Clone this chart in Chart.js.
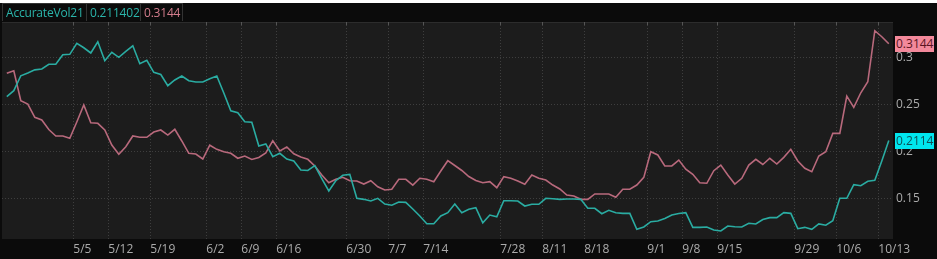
<!DOCTYPE html>
<html>
<head>
<meta charset="utf-8">
<script src="https://cdn.jsdelivr.net/npm/chart.js@4/dist/chart.umd.min.js"></script>
<style>
  html, body { margin: 0; padding: 0; background: #ffffff; }
  #wrap { position: absolute; left: 0; top: 3px; width: 937px; height: 256px; background: #0b0b0b; overflow: hidden; }
  #c { position: absolute; left: 0; top: 0; }
  #hdr { position: absolute; left: 0; top: 0; height: 18px; width: 937px; font-family: 'Open Sans', sans-serif; font-size: 12px; letter-spacing: -0.2px; }
  .hb { position: absolute; top: 0; height: 18px; line-height: 18px; border: 1px solid #333; border-bottom: none; box-sizing: border-box; padding-left: 3px; white-space: nowrap; overflow: hidden; }
  .vl { position: absolute; left: 895px; width: 39px; height: 16px; line-height: 16px; font-family: 'Open Sans', sans-serif; font-size: 12px; padding-left: 1px; box-sizing: border-box; white-space: nowrap; overflow: hidden; }
</style>
</head>
<body>
<div id="wrap">
  <canvas id="c" width="937" height="256"></canvas>
  <div id="hdr">
    <div class="hb" id="hName" style="left:2px;width:85px;color:#2bb5ab;"></div>
    <div class="hb" id="hV1" style="left:86px;width:55px;color:#2bb5ab;"></div>
    <div class="hb" id="hV2" style="left:140px;width:43px;color:#d47d8d;"></div>
  </div>
  <div class="vl" id="lblPink" style="background:#f3899b;color:#5a1422;"></div>
  <div class="vl" id="lblTeal" style="background:#00e6ee;color:#0d4f55;"></div>
</div>
<script>
const studyName = 'AccurateVol21';
const headerValues = ['0.211402', '0.3144'];

const tickLabels = ['5/5','5/12','5/19','6/2','6/9','6/16','6/30','7/7','7/14','7/28','8/11','8/18','9/1','9/8','9/15','9/29','10/6','10/13'];
const tickBars = [10,15,21,29,34,39,49,55,60,71,77,83,92,97,102,113,119,125];
const yTicks = [0.15, 0.2, 0.25, 0.3];

const tealVol = [
  0.2581,0.2645,0.2804,0.2833,0.2867,0.2876,0.2926,0.2926,0.3028,0.3032,
  0.3149,0.3102,0.3046,0.3166,0.2964,0.3053,0.3000,0.3064,0.3123,0.2932,
  0.2968,0.2840,0.2817,0.2698,0.2759,0.2801,0.2751,0.2737,0.2737,0.2772,
  0.2801,0.2620,0.2432,0.2411,0.2315,0.2309,0.2056,0.2078,0.1943,0.1979,
  0.1918,0.1897,0.1801,0.1796,0.1847,0.1710,0.1578,0.1687,0.1745,0.1755,
  0.1500,0.1489,0.1471,0.1500,0.1439,0.1426,0.1461,0.1457,0.1386,0.1312,
  0.1230,0.1230,0.1312,0.1347,0.1439,0.1347,0.1383,0.1400,0.1240,0.1322,
  0.1304,0.1474,0.1474,0.1471,0.1418,0.1436,0.1436,0.1500,0.1496,0.1489,
  0.1493,0.1493,0.1489,0.1394,0.1394,0.1336,0.1372,0.1347,0.1340,0.1340,
  0.1170,0.1195,0.1251,0.1259,0.1285,0.1322,0.1338,0.1347,0.1191,0.1191,
  0.1195,0.1163,0.1152,0.1205,0.1198,0.1195,0.1234,0.1227,0.1274,0.1294,
  0.1294,0.1347,0.1340,0.1177,0.1191,0.1170,0.1227,0.1213,0.1262,0.1500,
  0.1500,0.1645,0.1634,0.1681,0.1691,0.1897,0.2114
];

const pinkVol = [
  0.2830,0.2857,0.2538,0.2503,0.2362,0.2333,0.2232,0.2163,0.2163,0.2138,
  0.2312,0.2493,0.2304,0.2298,0.2227,0.2067,0.1968,0.2049,0.2163,0.2149,
  0.2149,0.2205,0.2227,0.2173,0.2234,0.2110,0.1979,0.1971,0.1918,0.2065,
  0.2021,0.1996,0.1979,0.1926,0.1950,0.1913,0.1934,0.1982,0.2113,0.2003,
  0.2046,0.1974,0.1939,0.1915,0.1844,0.1748,0.1666,0.1702,0.1723,0.1687,
  0.1684,0.1652,0.1687,0.1623,0.1588,0.1596,0.1702,0.1702,0.1641,0.1713,
  0.1702,0.1677,0.1790,0.1900,0.1849,0.1796,0.1732,0.1689,0.1666,0.1677,
  0.1613,0.1730,0.1713,0.1684,0.1649,0.1748,0.1713,0.1695,0.1641,0.1599,
  0.1535,0.1524,0.1489,0.1489,0.1546,0.1546,0.1546,0.1511,0.1596,0.1596,
  0.1641,0.1723,0.1996,0.1961,0.1844,0.1844,0.1907,0.1809,0.1755,0.1666,
  0.1660,0.1794,0.1854,0.1748,0.1652,0.1713,0.1854,0.1915,0.1860,0.1926,
  0.1865,0.1936,0.2021,0.1897,0.1819,0.1783,0.1950,0.1996,0.2191,0.2191,
  0.2588,0.2468,0.2623,0.2740,0.3283,0.3219,0.3144
];

const TEAL = '#2aaca2';
const PINK = '#b8697c';
const GRID = '#3e3e3e';
const AXIS_TEXT = '#ababab';

document.getElementById('hName').textContent = studyName;
document.getElementById('hV1').textContent = headerValues[0];
document.getElementById('hV2').textContent = headerValues[1];

const bgPlugin = {
  id: 'bg',
  beforeDraw(chart) {
    const { ctx, chartArea: a } = chart;
    ctx.save();
    ctx.fillStyle = '#0b0b0b';
    ctx.fillRect(0, 0, chart.width, chart.height);
    ctx.fillStyle = '#1c1c1c';
    ctx.fillRect(a.left, a.top, a.right - a.left, a.bottom - a.top);
    ctx.fillStyle = '#2c2c2c';
    ctx.fillRect(a.left, a.top, a.right - a.left, 1);
    ctx.restore();
  },
  beforeDatasetsDraw(chart) {
    const { ctx, chartArea: a } = chart;
    const xs = chart.scales.x;
    ctx.save();
    ctx.strokeStyle = '#555';
    ctx.lineWidth = 1;
    xs.ticks.forEach(t => {
      const px = Math.round(xs.getPixelForValue(t.value)) + 0.5;
      ctx.beginPath();
      ctx.moveTo(px, a.top);
      ctx.lineTo(px, a.top + 3);
      ctx.stroke();
    });
    ctx.restore();
  }
};

const chart = new Chart(document.getElementById('c'), {
  type: 'line',
  data: {
    datasets: [
      { label: 'AccurateVol21', data: tealVol.map((v, i) => ({ x: i, y: v })), borderColor: TEAL, borderWidth: 1.6, pointRadius: 0, tension: 0 },
      { label: 'Comparison', data: pinkVol.map((v, i) => ({ x: i, y: v })), borderColor: PINK, borderWidth: 1.6, pointRadius: 0, tension: 0 }
    ]
  },
  options: {
    responsive: false,
    animation: false,
    events: [],
    layout: { padding: { top: 19, left: 2, right: 0, bottom: 0 } },
    plugins: { legend: { display: false }, tooltip: { enabled: false } },
    scales: {
      x: {
        type: 'linear',
        min: -0.6857,
        max: 126.6,
        afterFit(s) { s.height = 20; },
        afterBuildTicks(s) { s.ticks = tickBars.map(b => ({ value: b - 0.5 })); },
        grid: { color: GRID, lineWidth: 1, drawTicks: false },
        border: { display: false, dash: [1, 2] },
        ticks: {
          autoSkip: false, maxRotation: 0, align: 'start', padding: 3,
          color: AXIS_TEXT, font: { family: 'Open Sans', size: 12 },
          callback: (v, idx) => tickLabels[idx]
        }
      },
      y: {
        position: 'right',
        min: 0.1067,
        max: 0.3376,
        afterFit(s) { s.width = 44; },
        afterBuildTicks(s) { s.ticks = yTicks.map(v => ({ value: v })); },
        grid: { color: GRID, lineWidth: 1, drawTicks: false },
        border: { display: false, dash: [1, 2] },
        ticks: {
          padding: 3, color: AXIS_TEXT, font: { family: 'Open Sans', size: 12 },
          callback: v => String(Math.round(v * 100) / 100)
        }
      }
    }
  },
  plugins: [bgPlugin]
});

function placeLabel(id, value) {
  const el = document.getElementById(id);
  el.textContent = value.toFixed(4);
  const py = chart.scales.y.getPixelForValue(value);
  el.style.top = (Math.round(py) - 8) + 'px';
}
placeLabel('lblPink', pinkVol[pinkVol.length - 1]);
placeLabel('lblTeal', tealVol[tealVol.length - 1]);
</script>
</body>
</html>
